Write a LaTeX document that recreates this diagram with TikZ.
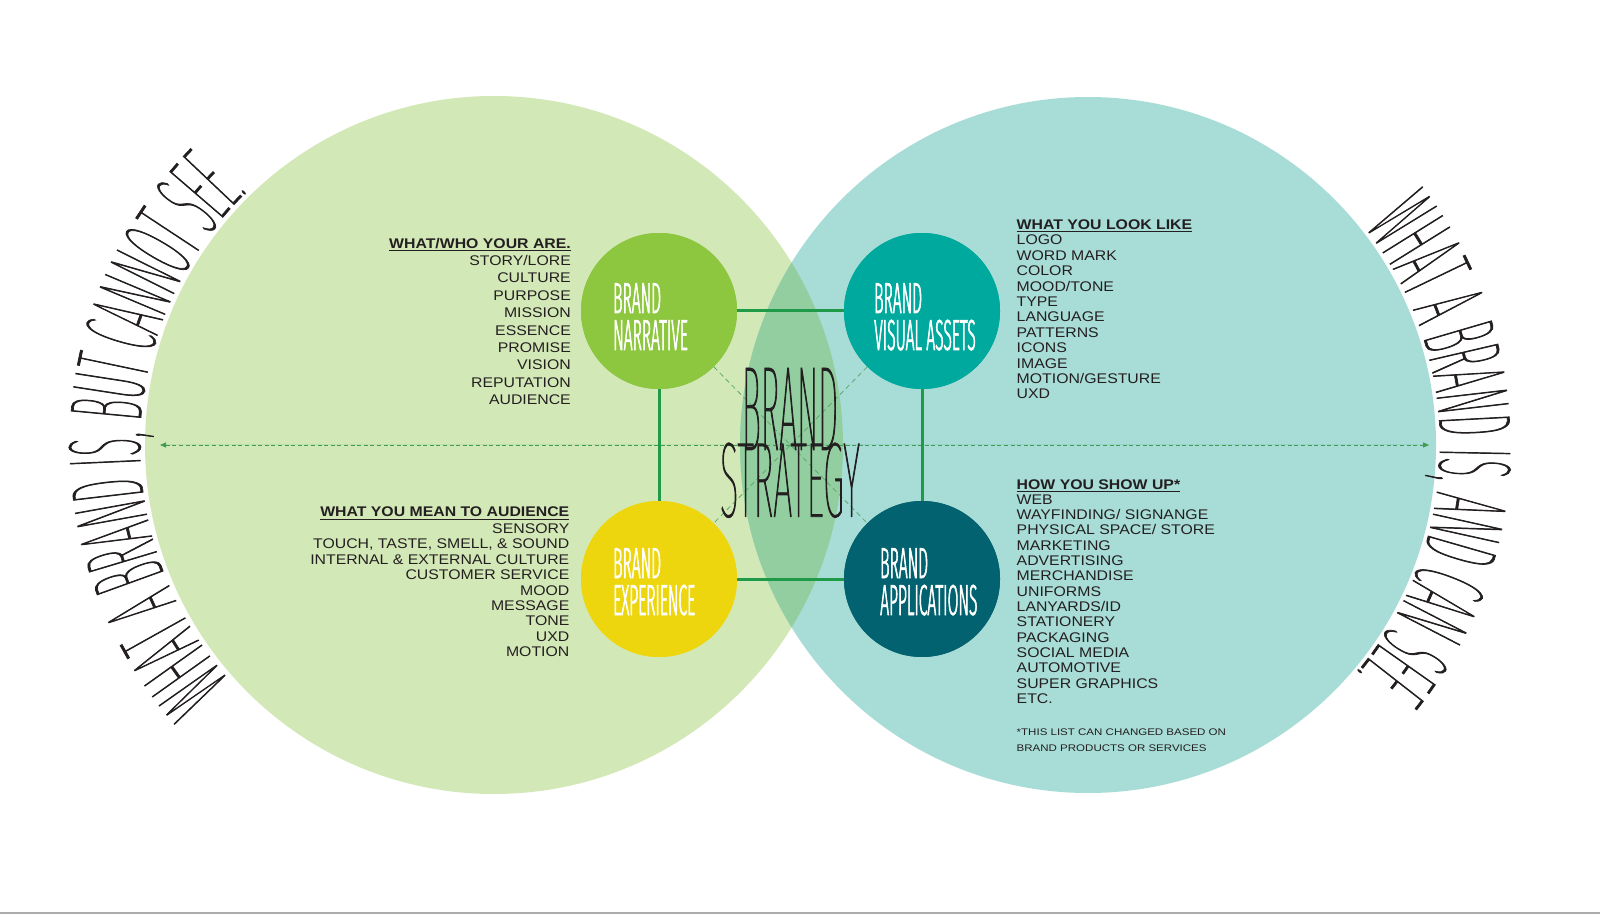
\documentclass[tikz,border=0pt]{standalone}
\usepackage{fontspec}
\usetikzlibrary{decorations.text,arrows.meta}
\setmainfont{Liberation Sans}[FakeStretch=1.13]
\newfontfamily\notefont{Liberation Sans}[FakeStretch=1.2]
\IfFontExistsTF{Fira Sans Thin}{\def\thinname{Fira Sans Thin}}{%
 \IfFontExistsTF{Lato Hairline}{\def\thinname{Lato Hairline}}{%
  \IfFontExistsTF{Fira Sans ExtraLight}{\def\thinname{Fira Sans ExtraLight}}{%
   \IfFontExistsTF{Fira Sans Light}{\def\thinname{Fira Sans Light}}{\def\thinname{Fira Sans}}}}}
\IfFontExistsTF{Fira Sans Light}{\def\lightname{Fira Sans Light}}{\def\lightname{Fira Sans}}
\newfontfamily\arcfont{\thinname}[FakeStretch=0.333, FakeBold=0.65]
\newfontfamily\bsAfont{\thinname}[FakeStretch=0.26, FakeBold=0.7]
\newfontfamily\bsBfont{\thinname}[FakeStretch=0.29, FakeBold=0.7]
\newfontfamily\lblfont{\lightname}[FakeStretch=0.36, FakeBold=1.3]
\definecolor{bgL}{HTML}{D3E8B7}
\definecolor{bgR}{HTML}{A8DCD7}
\definecolor{lensC}{HTML}{93CEA0}
\definecolor{cNarr}{HTML}{8DC63F}
\definecolor{cVis}{HTML}{00A99D}
\definecolor{cExp}{HTML}{EED60F}
\definecolor{cApp}{HTML}{02626F}
\definecolor{linkC}{HTML}{1F9A48}
\definecolor{dashC}{HTML}{3E9C55}
\definecolor{ink}{HTML}{231F20}
\newcommand\ulhead[1]{\setbox0\hbox{#1}\rlap{\color{ink}\rule[-3pt]{\wd0}{1.2pt}}\box0}
\begin{document}
\begin{tikzpicture}[x=1pt,y=1pt,
  bigc/.style={circle, minimum size=698pt, inner sep=0pt},
  smallc/.style={circle, minimum size=156pt, inner sep=0pt},
  conn/.style={draw=linkC, line width=3pt},
  dashln/.style={draw=dashC, line width=0.9pt, dash pattern=on 4pt off 2.6pt},
  diagln/.style={draw=dashC!85, line width=0.8pt, dash pattern=on 5pt off 3.5pt},
  listR/.style={anchor=base east, inner sep=0pt, text=ink, font=\fontsize{14}{16}\selectfont},
  listL/.style={anchor=base west, inner sep=0pt, text=ink, font=\fontsize{14}{16}\selectfont},
  headR/.style={listR, font=\fontsize{14}{16}\selectfont\bfseries},
  headL/.style={listL, font=\fontsize{14}{16}\selectfont\bfseries},
  lbl/.style={anchor=base west, inner sep=0pt, text=white, font=\lblfont\fontsize{43.5}{44}\selectfont}]
\fill[white] (0,0) rectangle (1600,914);
\useasboundingbox (0,0) rectangle (1600,914);
\fill[gray!65] (0,0) rectangle (1600,1.6);
% big circles
\node[bigc, fill=bgL] (L) at (494,469) {};
\node[bigc, fill=bgR, minimum size=696pt] (R) at (1088,469) {};
\begin{scope}
  \clip (494,469) circle[radius=349];
  \fill[lensC] (1088,469) circle[radius=348];
\end{scope}
% arc texts
\path[decorate, decoration={text along path, text align=center, text color=ink,
  text={|\arcfont\fontsize{103}{103}\selectfont|WHAT A BRAND IS, BUT CANNOT SEE.}}]
  (L.center) ++(240:354) arc[start angle=240, end angle=116, radius=354];
\path[decorate, decoration={text along path, text align=center, text color=ink,
  text={|\arcfont\fontsize{103}{103}\selectfont|WHAT A BRAND IS, AND CAN SEE.}}]
  (R.center) ++(61:352) arc[start angle=61, end angle=-63, radius=352];
% small circles
\node[smallc, fill=cNarr] (narr) at (659,603) {};
\node[smallc, fill=cVis] (vis) at (922,603) {};
\node[smallc, fill=cExp] (exp) at (659,335) {};
\node[smallc, fill=cApp] (app) at (922,335) {};
% dashed lines
\coordinate (arrL) at (160,469);
\coordinate (arrR) at (1429,469);
\draw[dashln, {Triangle[length=6pt,width=5pt]}-{Triangle[length=6pt,width=5pt]}, fill=dashC] (arrL) -- (arrR);
\draw[diagln] (narr) -- (app);
\draw[diagln] (vis) -- (exp);
% connectors
\draw[conn] (narr) -- (vis);
\draw[conn] (exp) -- (app);
\draw[conn] (narr) -- (exp);
\draw[conn] (vis) -- (app);
% redraw small circles on top
\node[smallc, fill=cNarr] (narrT) at (narr.center) {};
\node[smallc, fill=cVis] (visT) at (vis.center) {};
\node[smallc, fill=cExp] (expT) at (exp.center) {};
\node[smallc, fill=cApp] (appT) at (app.center) {};
% circle labels
\node[lbl] (narr1) at ([shift={(-46,-2)}]narr.center) {BRAND};
\node[lbl] (narr2) at ([shift={(-46,-39)}]narr.center) {NARRATIVE};
\node[lbl] (vis1) at ([shift={(-48,-2)}]vis.center) {BRAND};
\node[lbl] (vis2) at ([shift={(-48,-39)}]vis.center) {VISUAL ASSETS};
\node[lbl] (exp1) at ([shift={(-46,1)}]exp.center) {BRAND};
\node[lbl] (exp2) at ([shift={(-46,-36)}]exp.center) {EXPERIENCE};
\node[lbl] (app1) at ([shift={(-42,1)}]app.center) {BRAND};
\node[lbl] (app2) at ([shift={(-42,-36)}]app.center) {APPLICATIONS};
% central title
\node[anchor=base, inner sep=0pt, text=ink] (bs1) at (790,464) {\resizebox{96pt}{82pt}{\bsAfont\fontsize{119}{119}\selectfont BRAND}};
\node[anchor=base, inner sep=0pt, text=ink] (bs2) at (790,397.3) {\resizebox{140pt}{74pt}{\bsBfont\fontsize{107}{107}\selectfont STRATEGY}};
% left top list
\node[headR] (lt0) at (571,665.7) {\ulhead{WHAT/WHO YOUR ARE.}};
\foreach \t [count=\i] in {STORY/LORE, CULTURE, PURPOSE, MISSION, ESSENCE, PROMISE, VISION, REPUTATION, AUDIENCE}
  \node[listR] (lt\i) at (571,{665.7-17.35*\i}) {\t};
% left bottom list
\node[headR] (lb0) at (569.5,397.3) {\ulhead{WHAT YOU MEAN TO AUDIENCE}};
\foreach \t [count=\i] in {SENSORY, {TOUCH, TASTE, SMELL, \& SOUND}, INTERNAL \& EXTERNAL CULTURE, CUSTOMER SERVICE, MOOD, MESSAGE, TONE, UXD, MOTION}
  \node[listR] (lb\i) at (569.5,{380.7-15.43*(\i-1)}) {\t};
% right top list
\node[headL] (rt0) at (1016.5,684.7) {\ulhead{WHAT YOU LOOK LIKE}};
\foreach \t [count=\i] in {LOGO, WORD MARK, COLOR, MOOD/TONE, TYPE, LANGUAGE, PATTERNS, ICONS, IMAGE, MOTION/GESTURE, UXD}
  \node[listL] (rt\i) at (1016.5,{669-15.4*(\i-1)}) {\t};
% right bottom list
\node[headL] (rb0) at (1016.5,424.7) {\ulhead{HOW YOU SHOW UP*}};
\foreach \t [count=\i] in {WEB, WAYFINDING/ SIGNANGE, PHYSICAL SPACE/ STORE, MARKETING, ADVERTISING, MERCHANDISE, UNIFORMS, LANYARDS/ID, STATIONERY, PACKAGING, SOCIAL MEDIA, AUTOMOTIVE, SUPER GRAPHICS, ETC.}
  \node[listL] (rb\i) at (1016.5,{409.7-15.31*(\i-1)}) {\t};
\node[anchor=base west, inner sep=0pt, text=ink, font=\notefont\fontsize{9.6}{11}\selectfont] (note1) at (1016.5,178.3) {*THIS LIST CAN CHANGED BASED ON};
\node[anchor=base west, inner sep=0pt, text=ink, font=\notefont\fontsize{9.6}{11}\selectfont] (note2) at (1016.5,163) {BRAND PRODUCTS OR SERVICES};
\end{tikzpicture}
\end{document}
